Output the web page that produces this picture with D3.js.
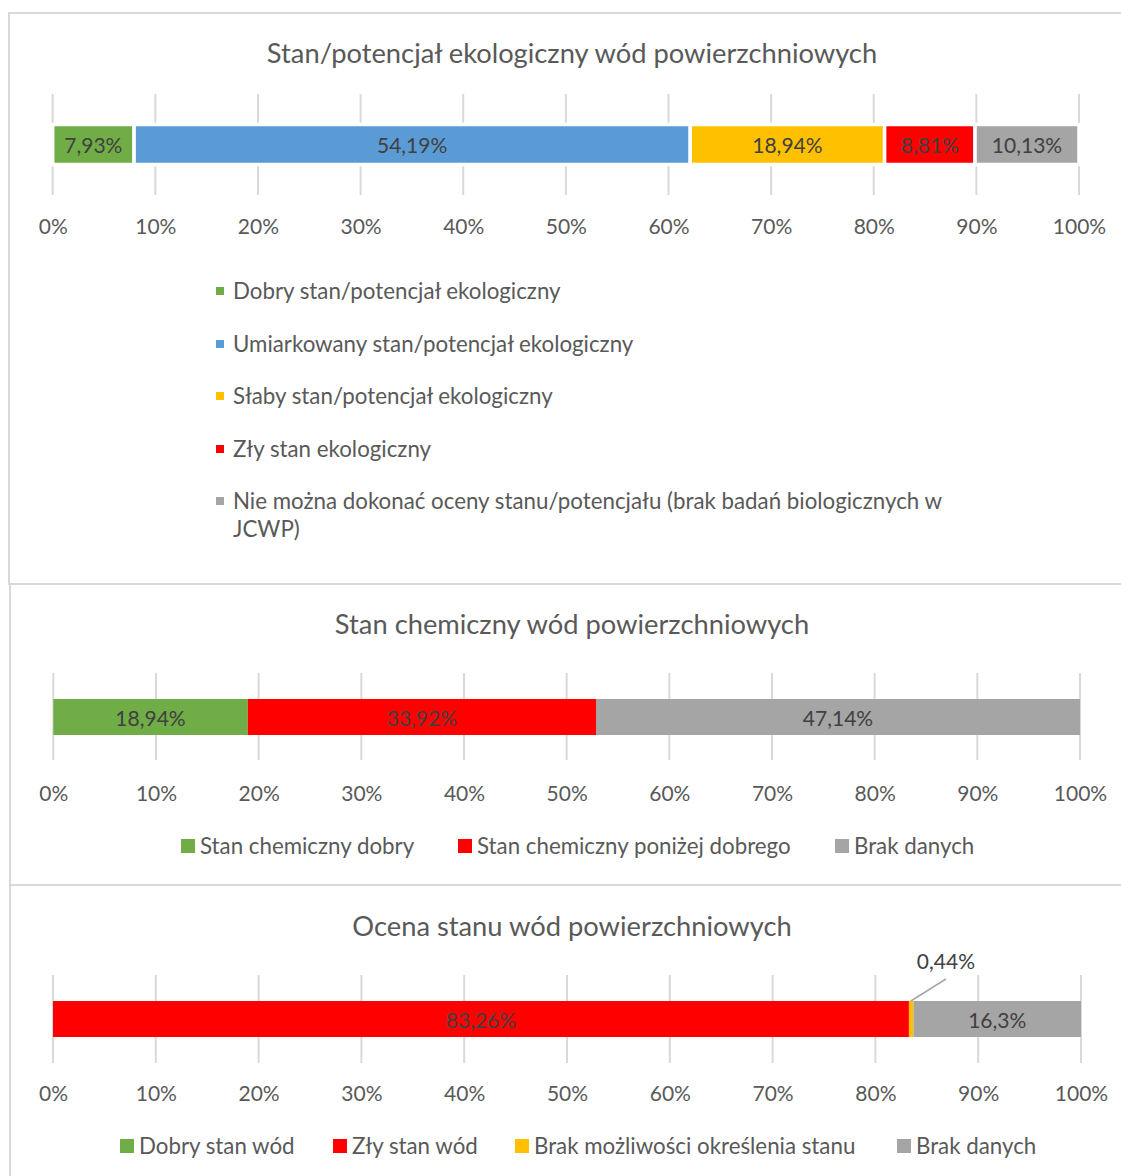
<!DOCTYPE html>
<html>
<head>
<meta charset="utf-8">
<script src="https://cdn.jsdelivr.net/npm/d3@7"></script>
<style>
  html, body { margin: 0; padding: 0; background: #fff; }
  svg { display: block; }
  text { font-family: Lato, "Open Sans", sans-serif; fill: #595959; }
</style>
</head>
<body>
<svg id="chart" width="1121" height="1176"></svg>
<script>
// ---------- DATA ----------
const ecoTitle = "Stan/potencjał ekologiczny wód powierzchniowych";
const ecoCategories = [
  "Dobry stan/potencjał ekologiczny",
  "Umiarkowany stan/potencjał ekologiczny",
  "Słaby stan/potencjał ekologiczny",
  "Zły stan ekologiczny",
  "Nie można dokonać oceny stanu/potencjału (brak badań biologicznych w JCWP)"
];
const ecoValues = [7.93, 54.19, 18.94, 8.81, 10.13];

const chemTitle = "Stan chemiczny wód powierzchniowych";
const chemCategories = ["Stan chemiczny dobry", "Stan chemiczny poniżej dobrego", "Brak danych"];
const chemValues = [18.94, 33.92, 47.14];

const assessTitle = "Ocena stanu wód powierzchniowych";
const assessCategories = ["Dobry stan wód", "Zły stan wód", "Brak możliwości określenia stanu", "Brak danych"];
const assessValues = [0, 83.26, 0.44, 16.3];

const tickValues = [0, 10, 20, 30, 40, 50, 60, 70, 80, 90, 100];
const tickLabels = ["0%", "10%", "20%", "30%", "40%", "50%", "60%", "70%", "80%", "90%", "100%"];

// ---------- STYLE ----------
const C = { green: "#70AD47", blue: "#5B9BD5", yellow: "#FFC000", red: "#FF0000", gray: "#A5A5A5" };
const ecoColors = [C.green, C.blue, C.yellow, C.red, C.gray];
const chemColors = [C.green, C.red, C.gray];
const assessColors = [C.green, C.red, C.yellow, C.gray];
const TEXT = "#595959", LABEL = "#404040", GRID = "#D9D9D9", BORDER = "#D9D9D9";
const TITLE_SIZE = "27.3px", LEGEND_SIZE = "22.3px", TICK_SIZE = "21px", LABEL_SIZE = "21px";

const svg = d3.select("#chart");
const fmt = v => String(v).replace(".", ",") + "%";

function stackData(values) {
  let acc = 0;
  return values.map((v, i) => { const d = { i, v, x0: acc, x1: acc + v }; acc += v; return d; });
}

function panelBox(y0, y1, x0) {
  svg.append("rect").attr("x", x0).attr("y", y0).attr("width", 1300).attr("height", y1 - y0)
    .attr("fill", "none").attr("stroke", BORDER).attr("stroke-width", 2);
}

function drawBarPanel(opt) {
  const g = svg.append("g");
  const x = d3.scaleLinear().domain([0, 100]).range(opt.range);
  g.append("text").attr("x", 572).attr("y", opt.titleY).attr("text-anchor", "middle")
    .attr("dominant-baseline", "central").style("font-size", TITLE_SIZE).text(opt.title);
  g.selectAll("line.grid").data(tickValues).join("line").attr("class", "grid")
    .attr("x1", d => x(d)).attr("x2", d => x(d))
    .attr("y1", opt.gridTop).attr("y2", opt.gridBottom)
    .attr("stroke", GRID).attr("stroke-width", 2);
  const y = d3.scaleBand().domain([0]).range([opt.barTop, opt.barBottom]).padding(0);
  const data = stackData(opt.values).filter(d => d.v > 0);
  g.selectAll("rect.seg").data(data).join("rect").attr("class", "seg")
    .attr("x", d => x(d.x0)).attr("width", d => x(d.x1) - x(d.x0))
    .attr("y", y(0)).attr("height", y.bandwidth())
    .attr("fill", d => opt.colors[d.i])
    .attr("stroke", opt.segStroke ? "#fff" : "none")
    .attr("stroke-width", opt.segStroke || 0);
  g.selectAll("text.lbl").data(data.filter(d => !opt.outside || !opt.outside.includes(d.i)))
    .join("text").attr("class", "lbl")
    .attr("x", d => (x(d.x0) + x(d.x1)) / 2).attr("y", y(0) + y.bandwidth() / 2)
    .attr("text-anchor", "middle").attr("dominant-baseline", "central")
    .style("font-size", LABEL_SIZE).style("fill", LABEL).text(d => fmt(d.v));
  if (opt.outside) {
    data.filter(d => opt.outside.includes(d.i)).forEach(d => {
      const cx = x(d.x0);
      g.append("line").attr("x1", cx + 2).attr("y1", opt.barTop)
        .attr("x2", cx + 37).attr("y2", opt.barTop - 22)
        .attr("stroke", "#A6A6A6").attr("stroke-width", 1.5);
      g.append("text").attr("x", cx + 37).attr("y", opt.barTop - 41)
        .attr("text-anchor", "middle").attr("dominant-baseline", "central")
        .style("font-size", LABEL_SIZE).style("fill", LABEL).text(fmt(d.v));
    });
  }
  const axis = d3.axisBottom(x).tickValues(tickValues)
    .tickFormat((d, i) => tickLabels[i]).tickSize(0).tickPadding(0);
  const ax = g.append("g").attr("transform", `translate(0,${opt.tickY})`).call(axis);
  ax.select(".domain").remove();
  ax.selectAll("text").attr("dy", null).attr("y", 0)
    .attr("dominant-baseline", "central")
    .style("font-size", TICK_SIZE).style("font-family", "Lato, 'Open Sans', sans-serif").style("fill", TEXT);
  return { g, x };
}

// ---------- PANEL BORDERS ----------
panelBox(13, 584, 9);
panelBox(584, 885, 10);
panelBox(885, 1300, 10);

// ---------- PANEL 1 ----------
drawBarPanel({
  title: ecoTitle, titleY: 52, range: [52.7, 1079], values: ecoValues, colors: ecoColors,
  gridTop: 94, gridBottom: 195, barTop: 124.5, barBottom: 164.5, segStroke: 3.5, tickY: 225
});
const leg1 = svg.append("g");
const leg1Y = [290, 343, 395, 448, 500];
const leg1Lines = ecoCategories.map(c => [c]);
leg1Lines[4] = ["Nie można dokonać oceny stanu/potencjału (brak badań biologicznych w", "JCWP)"];
ecoCategories.forEach((c, i) => {
  leg1.append("rect").attr("x", 216).attr("y", leg1Y[i] - 3).attr("width", 8).attr("height", 8)
    .attr("fill", ecoColors[i]);
  leg1Lines[i].forEach((ln, k) => {
    leg1.append("text").attr("x", 233).attr("y", leg1Y[i] + k * 28)
      .attr("dominant-baseline", "central").style("font-size", LEGEND_SIZE).text(ln);
  });
});

// ---------- PANEL 2 ----------
drawBarPanel({
  title: chemTitle, titleY: 623, range: [53.3, 1080], values: chemValues, colors: chemColors,
  gridTop: 673, gridBottom: 760, barTop: 699, barBottom: 735, segStroke: 0, tickY: 792
});
function hLegend(names, colors, xs, yc) {
  const g = svg.append("g");
  names.forEach((n, i) => {
    g.append("rect").attr("x", xs[i]).attr("y", yc - 6).attr("width", 14).attr("height", 14).attr("fill", colors[i]);
    g.append("text").attr("x", xs[i] + 19).attr("y", yc).attr("dominant-baseline", "central")
      .style("font-size", LEGEND_SIZE).text(n);
  });
}
hLegend(chemCategories, chemColors, [181, 458, 835], 845);

// ---------- PANEL 3 ----------
drawBarPanel({
  title: assessTitle, titleY: 925, range: [53, 1081], values: assessValues, colors: assessColors,
  gridTop: 975, gridBottom: 1063, barTop: 1001, barBottom: 1037, segStroke: 0, tickY: 1092,
  outside: [2]
});
hLegend(assessCategories, assessColors, [120, 333, 515, 897], 1145);
</script>
</body>
</html>
